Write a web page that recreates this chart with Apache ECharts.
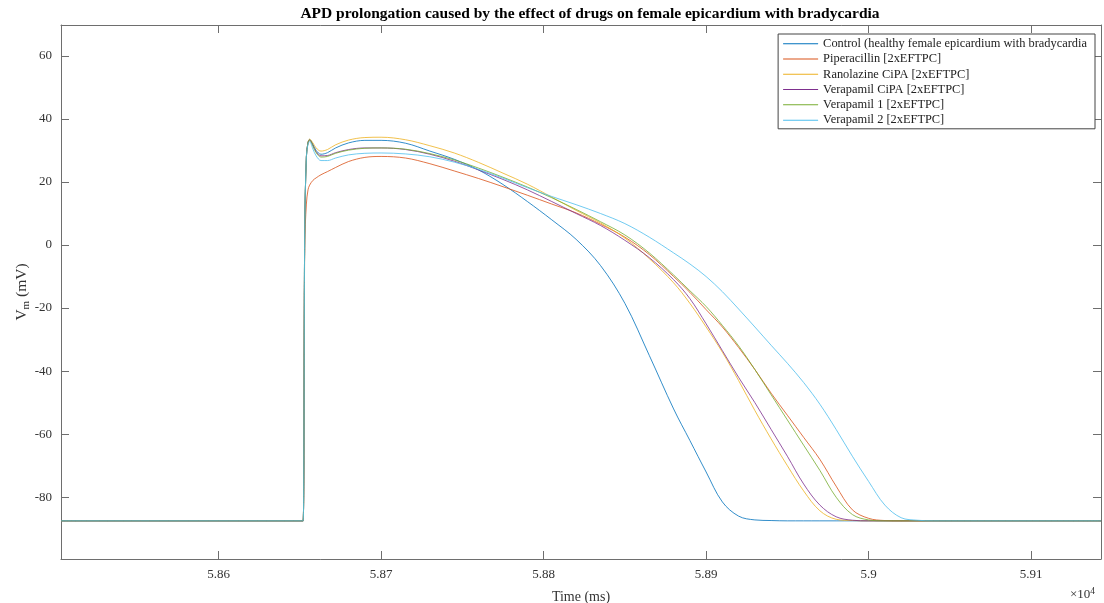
<!DOCTYPE html>
<html><head><meta charset="utf-8">
<script src="https://cdn.jsdelivr.net/npm/echarts@6/dist/echarts.min.js"></script>
<style>html,body{margin:0;padding:0;background:#fff}#c{width:1104px;height:603px}</style>
</head><body><div id="c"></div>
<script>
const seriesNames = [
  'Control (healthy female epicardium with bradycardia',
  'Piperacillin [2xEFTPC]',
  'Ranolazine CiPA [2xEFTPC]',
  'Verapamil CiPA [2xEFTPC]',
  'Verapamil 1 [2xEFTPC]',
  'Verapamil 2 [2xEFTPC]'
];
const time = [58503, 58651, 58652, 58653, 58654, 58655, 58656, 58658, 58660, 58663, 58667, 58672, 58680, 58690, 58700, 58715, 58730, 58745, 58760, 58775, 58790, 58805, 58820, 58835, 58850, 58865, 58880, 58890, 58900, 58910, 58920, 58930, 58940, 58950, 58960, 58970, 58980, 58990, 59000, 59010, 59020, 59030, 59040, 59143];
const control = [-87.5, -87.5, -87.5, 5, 28, 32.5, 33.5, 32, 30, 28.8, 29.3, 30.8, 32.4, 33.2, 33.2, 32.3, 29.8, 27.2, 23.8, 19.2, 13.8, 8.0, 1.8, -6.5, -18.5, -35, -52, -62, -72, -81.5, -86, -87.2, -87.4, -87.5, -87.5, -87.5, -87.5, -87.5, -87.5, -87.5, -87.5, -87.5, -87.5, -87.5];
const piperacillin = [-87.5, -87.5, -87.5, 0, 13, 17.5, 19, 20.5, 21.3, 22.3, 23.3, 24.6, 26.5, 27.8, 28.1, 27.6, 25.8, 23.5, 21.1, 18.5, 15.8, 13, 10.2, 6.6, 2.5, -3, -10, -15, -20.5, -26, -32.5, -39.5, -47, -54, -61, -68, -76.5, -84, -86.7, -87.4, -87.5, -87.5, -87.5, -87.5];
const ranolazine = [-87.5, -87.5, -87.5, 5, 28, 32.5, 33.6, 32.4, 30.8, 29.8, 30.3, 31.8, 33.3, 34.1, 34.2, 33.4, 31.5, 29.2, 26.2, 22.8, 19.3, 15.2, 11, 7, 2.2, -4.3, -12, -18.5, -26, -34, -43, -52.5, -61.5, -70, -78, -84.3, -87, -87.4, -87.5, -87.5, -87.5, -87.5, -87.5, -87.5];
const verapamilCiPA = [-87.5, -87.5, -87.5, 5, 28, 32.5, 33.3, 31.6, 29.6, 28.3, 28.4, 29.3, 30.3, 30.8, 30.8, 30.3, 28.8, 26.6, 23.8, 20.8, 17.5, 13.8, 10, 6.2, 1.5, -4, -11, -17, -25, -33.5, -42, -50, -58.5, -67, -75.8, -82.5, -86.2, -87.3, -87.5, -87.5, -87.5, -87.5, -87.5, -87.5];
const verapamil1 = [-87.5, -87.5, -87.5, 5, 28, 32.5, 33.3, 31.4, 29.3, 27.9, 28.1, 29.1, 30.1, 30.7, 30.8, 30.4, 29, 27, 24.4, 21.5, 18.4, 15, 11.3, 7.4, 3.2, -2.5, -9.5, -14.5, -19.5, -25.5, -32, -39.5, -47.5, -55.5, -63.5, -71.5, -80, -85.5, -87.2, -87.5, -87.5, -87.5, -87.5, -87.5];
const verapamil2 = [-87.5, -87.5, -87.5, 5, 28, 32, 32.8, 30.5, 28.3, 26.8, 26.8, 27.6, 28.6, 29.1, 29.2, 28.9, 28, 26.3, 24, 21.2, 18.2, 15.4, 12.8, 10, 6.8, 2.5, -2.5, -6, -10, -14.8, -20.3, -26, -31.8, -37.5, -43.6, -50.5, -58.5, -67, -75, -82.5, -86.5, -87.3, -87.5, -87.5];
const xTicks = [58600, 58700, 58800, 58900, 59000, 59100];
const yTicks = [-80, -60, -40, -20, 0, 20, 40, 60];

const allValues = [control, piperacillin, ranolazine, verapamilCiPA, verapamil1, verapamil2];
const colors = ['#0072BD', '#D95319', '#EDB120', '#7E2F8E', '#77AC30', '#4DBEEE'];
const FONT = 'Liberation Serif';
const AX = '#6e6e6e';
const xMin = 58503, xMax = 59143, yMin = -99.6, yMax = 69.8;

const chart = echarts.init(document.getElementById('c'), null, {renderer: 'canvas'});
const tickStyle = {show: true, inside: true, length: 8, lineStyle: {color: AX, width: 1}};
const lineAx = {show: true, onZero: false, lineStyle: {color: AX, width: 1}};
chart.setOption({
  animation: false,
  backgroundColor: '#fff',
  title: {
    text: 'APD prolongation caused by the effect of drugs on female epicardium with bradycardia',
    left: 585, top: 1, textAlign: 'center',
    textStyle: {fontFamily: FONT, fontWeight: 'bold', fontSize: 15.5, color: '#000'}
  },
  grid: {left: 61, right: 3, top: 25, bottom: 44, outerBoundsMode: 'none', containLabel: false},
  legend: {
    orient: 'vertical', right: 9, top: 34,
    data: seriesNames,
    icon: 'rect', itemWidth: 35, itemHeight: 1, itemGap: 0,
    backgroundColor: '#fff', borderColor: '#444', borderWidth: 1,
    padding: [2, 8, 1, 5],
    textStyle: {fontFamily: FONT, fontSize: 12.4, color: '#222', lineHeight: 15.3}
  },
  xAxis: [{
    type: 'value', min: xMin, max: xMax, position: 'bottom',
    name: 'Time (ms)', nameLocation: 'middle', nameGap: 31, nameMoveOverlap: false,
    nameTextStyle: {fontFamily: FONT, fontSize: 14, color: '#333'},
    axisLine: lineAx,
    axisTick: Object.assign({customValues: xTicks}, tickStyle),
    axisLabel: {customValues: xTicks, margin: 9, fontFamily: FONT, fontSize: 13, color: '#333',
      formatter: v => String(+(v / 10000).toFixed(3))},
    splitLine: {show: false}
  }, {
    type: 'value', min: xMin, max: xMax, position: 'top',
    axisLine: lineAx,
    axisTick: Object.assign({customValues: xTicks}, tickStyle),
    axisLabel: {show: false}, splitLine: {show: false}
  }],
  yAxis: [{
    type: 'value', min: yMin, max: yMax, position: 'left',
    name: '{a|V}{s|m}{a| (mV)}', nameLocation: 'middle', nameGap: 31, nameRotate: 90,
    nameMoveOverlap: false,
    nameTextStyle: {rich: {
      a: {fontFamily: FONT, fontSize: 15.5, color: '#333'},
      s: {fontFamily: FONT, fontSize: 11, color: '#333', padding: [0, 0, -9, 0]}
    }},
    axisLine: lineAx,
    axisTick: Object.assign({customValues: yTicks}, tickStyle),
    axisLabel: {customValues: yTicks, margin: 9, fontFamily: FONT, fontSize: 13, color: '#333'},
    splitLine: {show: false}
  }, {
    type: 'value', min: yMin, max: yMax, position: 'right',
    axisLine: lineAx,
    axisTick: Object.assign({customValues: yTicks}, tickStyle),
    axisLabel: {show: false}, splitLine: {show: false}
  }],
  graphic: [{
    type: 'text', left: 1070, top: 586,
    style: {text: '{a|×10}{b|4}', rich: {
      a: {fontFamily: FONT, fontSize: 13, fill: '#333'},
      b: {fontFamily: FONT, fontSize: 9.5, fill: '#333', padding: [0, 0, 8, 0]}
    }}
  }],
  series: seriesNames.map((name, i) => ({
    name: name, type: 'line', xAxisIndex: 0, yAxisIndex: 0,
    data: time.map((t, k) => [t, allValues[i][k]]),
    showSymbol: false, symbol: 'none',
    smooth: 0.35,
    color: colors[i],
    lineStyle: {width: 1, color: colors[i], opacity: 0.8},
    emphasis: {disabled: true}
  }))
});
</script></body></html>
